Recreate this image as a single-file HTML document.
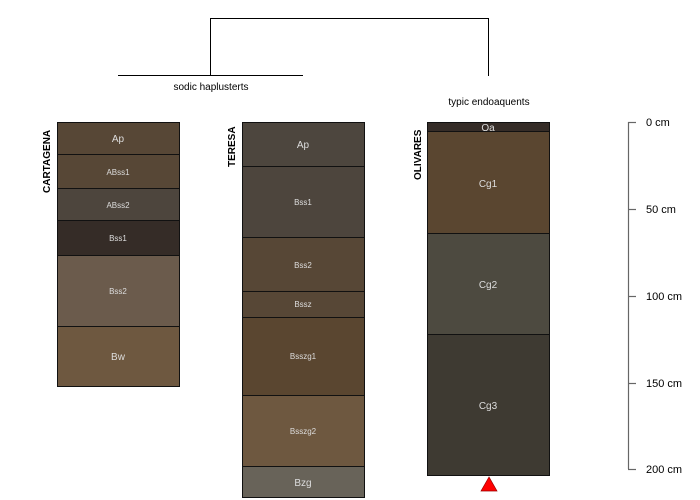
<!DOCTYPE html>
<html><head><meta charset="utf-8"><style>
html,body{margin:0;padding:0;background:#fff;}
svg{display:block;font-family:"Liberation Sans",sans-serif;}
</style></head><body>
<svg width="700" height="500" viewBox="0 0 700 500" xmlns="http://www.w3.org/2000/svg">
<g stroke="#000" stroke-width="1" fill="none">
<path d="M210.5 75V18.5H488.5V76"/>
<path d="M118 75.5H303"/>
</g>
<text x="211" y="90" font-size="10" text-anchor="middle" fill="#000">sodic haplusterts</text>
<text x="489" y="105" font-size="10" text-anchor="middle" fill="#000">typic endoaquents</text>

<g stroke="#111" stroke-width="1">
<rect x="57.5" y="122.5" width="122" height="32" fill="#574736"/>
<rect x="57.5" y="154.5" width="122" height="34" fill="#574736"/>
<rect x="57.5" y="188.5" width="122" height="32" fill="#4d453d"/>
<rect x="57.5" y="220.5" width="122" height="35" fill="#352c27"/>
<rect x="57.5" y="255.5" width="122" height="71" fill="#6b5b4c"/>
<rect x="57.5" y="326.5" width="122" height="60" fill="#6e5840"/>
<rect x="242.5" y="122.5" width="122" height="44" fill="#4d463e"/>
<rect x="242.5" y="166.5" width="122" height="71" fill="#4d453d"/>
<rect x="242.5" y="237.5" width="122" height="54" fill="#574736"/>
<rect x="242.5" y="291.5" width="122" height="26" fill="#574736"/>
<rect x="242.5" y="317.5" width="122" height="78" fill="#5a4630"/>
<rect x="242.5" y="395.5" width="122" height="71" fill="#6e5840"/>
<rect x="242.5" y="466.5" width="122" height="31" fill="#686359"/>
<rect x="427.5" y="122.5" width="122" height="9" fill="#352c27"/>
<rect x="427.5" y="131.5" width="122" height="102" fill="#5a4630"/>
<rect x="427.5" y="233.5" width="122" height="101" fill="#4d4a40"/>
<rect x="427.5" y="334.5" width="122" height="141" fill="#3e3a32"/>
</g>
<polygon points="489,477 481,491 497,491" fill="#f00" stroke="#900" stroke-width="0.7"/>

<g fill="#ddd" text-anchor="middle">
<text x="118" y="142" font-size="10">Ap</text>
<text x="118" y="175" font-size="8">ABss1</text>
<text x="118" y="208" font-size="8">ABss2</text>
<text x="118" y="241" font-size="8">Bss1</text>
<text x="118" y="294" font-size="8">Bss2</text>
<text x="118" y="360" font-size="10">Bw</text>
<text x="303" y="148" font-size="10">Ap</text>
<text x="303" y="205" font-size="8">Bss1</text>
<text x="303" y="268" font-size="8">Bss2</text>
<text x="303" y="307" font-size="8">Bssz</text>
<text x="303" y="359" font-size="8">Bsszg1</text>
<text x="303" y="434" font-size="8">Bsszg2</text>
<text x="303" y="486" font-size="10">Bzg</text>
<text x="488" y="131" font-size="10">Oa</text>
<text x="488" y="187" font-size="10">Cg1</text>
<text x="488" y="288" font-size="10">Cg2</text>
<text x="488" y="409" font-size="10">Cg3</text>
</g>

<g font-size="10" font-weight="bold" fill="#000">
<text transform="translate(50,193) rotate(-90)">CARTAGENA</text>
<text transform="translate(235,167) rotate(-90)">TERESA</text>
<text transform="translate(421,180) rotate(-90)">OLIVARES</text>
</g>

<g stroke="#666" stroke-width="1.2">
<line x1="628.5" y1="122" x2="628.5" y2="469"/>
<line x1="628" y1="122.5" x2="636" y2="122.5"/>
<line x1="628" y1="209.5" x2="636" y2="209.5"/>
<line x1="628" y1="296.5" x2="636" y2="296.5"/>
<line x1="628" y1="383.5" x2="636" y2="383.5"/>
<line x1="628" y1="469.5" x2="636" y2="469.5"/>
</g>
<g font-size="11" fill="#000">
<text x="646" y="126">0 cm</text>
<text x="646" y="213">50 cm</text>
<text x="646" y="300">100 cm</text>
<text x="646" y="387">150 cm</text>
<text x="646" y="473">200 cm</text>
</g>
</svg>
</body></html>
